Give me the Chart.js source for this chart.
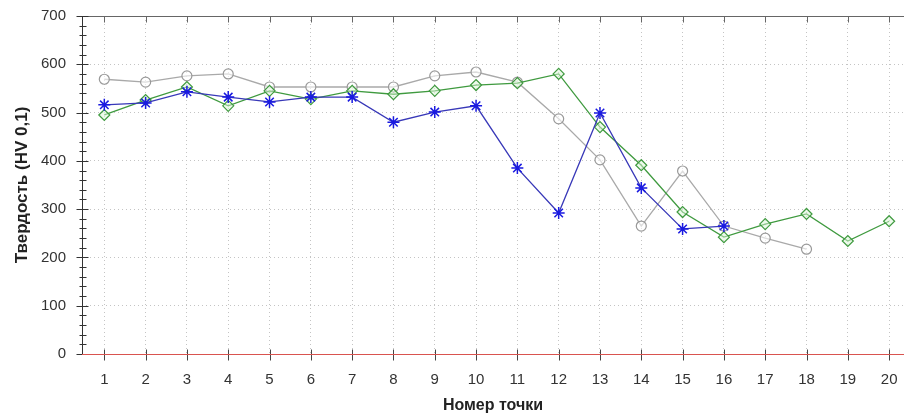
<!DOCTYPE html>
<html>
<head>
<meta charset="utf-8">
<script src="https://cdn.jsdelivr.net/npm/chart.js@4.4.1/dist/chart.umd.min.js"></script>
<style>
  html, body { margin: 0; padding: 0; background: #fff; }
  #wrap { width: 904px; height: 419px; }
</style>
</head>
<body>
<div id="wrap"><canvas id="myChart" width="904" height="419"></canvas></div>
<script>
// point numbers along the x axis
const points = [1, 2, 3, 4, 5, 6, 7, 8, 9, 10, 11, 12, 13, 14, 15, 16, 17, 18, 19, 20];

// hardness values
const grayValues  = [569, 563, 576, 580, 553, 553, 553, 553, 576, 584, 563, 487, 402, 265, 379, 265, 240, 217];
const greenValues = [495, 526, 553, 514, 545, 528, 545, 538, 545, 557, 561, 580, 470, 391, 294, 242, 269, 290, 234, 275];
const blueValues  = [516, 520, 543, 532, 522, 532, 532, 480, 501, 514, 385, 292, 499, 344, 259, 265];

const yTicks = [0, 100, 200, 300, 400, 500, 600, 700];

function toXY(values) {
  return values.map((v, i) => ({ x: points[i], y: v }));
}

// axis lines and crossing tick marks like the original plot
const axesPlugin = {
  id: 'axesPlugin',
  beforeDatasetsDraw(chart) {
    const ctx = chart.ctx;
    const xs = chart.scales.x;
    const ys = chart.scales.y;
    const area = chart.chartArea;
    ctx.save();
    ctx.lineWidth = 1;

    // top border with ticks hanging down
    ctx.strokeStyle = '#666';
    ctx.beginPath();
    const ty = Math.round(area.top) + 0.5;
    ctx.moveTo(area.left, ty);
    ctx.lineTo(area.right, ty);
    points.forEach(p => {
      const px = Math.round(xs.getPixelForValue(p)) + 0.5;
      ctx.moveTo(px, ty);
      ctx.lineTo(px, ty + 6);
    });
    ctx.stroke();

    // y axis with major and minor ticks
    ctx.strokeStyle = '#333';
    ctx.beginPath();
    const ax = Math.round(area.left) + 0.5;
    ctx.moveTo(ax, area.top);
    ctx.lineTo(ax, area.bottom);
    for (let v = 0; v <= 700; v += 20) {
      const py = Math.round(ys.getPixelForValue(v)) + 0.5;
      const major = v % 100 === 0;
      ctx.moveTo(ax - (major ? 6 : 3), py);
      ctx.lineTo(ax + (major ? 6 : 4), py);
    }
    ctx.stroke();

    // x axis ticks
    ctx.strokeStyle = '#444';
    ctx.beginPath();
    const by = Math.round(area.bottom) + 0.5;
    points.forEach(p => {
      const px = Math.round(xs.getPixelForValue(p)) + 0.5;
      ctx.moveTo(px, by - 5);
      ctx.lineTo(px, by + 6);
    });
    ctx.stroke();

    // red baseline
    ctx.strokeStyle = '#d9534f';
    ctx.beginPath();
    ctx.moveTo(area.left, by);
    ctx.lineTo(area.right, by);
    ctx.stroke();
    ctx.restore();
  }
};

const ctx = document.getElementById('myChart');

const chart = new Chart(ctx, {
  type: 'line',
  data: {
    datasets: [
      {
        label: 'gray',
        order: 2,
        data: toXY(grayValues),
        borderColor: '#a9a9a9',
        borderWidth: 1.3,
        pointStyle: 'circle',
        pointRadius: 5,
        pointBorderWidth: 1.2,
        pointBackgroundColor: 'rgba(255,255,255,0.6)',
        pointBorderColor: '#999',
        tension: 0
      },
      {
        label: 'blue',
        order: 0,
        data: toXY(blueValues),
        borderColor: '#3838b8',
        borderWidth: 1.3,
        pointStyle: 'star',
        pointRadius: 6,
        pointBorderWidth: 1.5,
        pointBorderColor: '#1a1ae0',
        pointBackgroundColor: '#1a1ae0',
        tension: 0
      },
      {
        label: 'green',
        order: 1,
        data: toXY(greenValues),
        borderColor: '#3f9a3f',
        borderWidth: 1.3,
        pointStyle: 'rectRot',
        pointRadius: 5.5,
        pointBorderWidth: 1.2,
        pointBorderColor: '#3f9a3f',
        pointBackgroundColor: 'rgba(220,245,215,0.5)',
        tension: 0
      }
    ]
  },
  options: {
    responsive: false,
    animation: false,
    layout: { autoPadding: false, padding: { top: 16, right: 0, left: 0, bottom: 0 } },
    plugins: {
      legend: { display: false },
      tooltip: { enabled: false }
    },
    scales: {
      x: {
        type: 'linear',
        min: 0.46,
        max: 20.36,
        afterBuildTicks: (scale) => { scale.ticks = points.map(p => ({ value: p })); },
        afterFit: (scale) => {
          scale.height = 65;
          scale.paddingLeft = 0;
          scale.paddingRight = 0;
        },
        border: { display: false, dash: [1, 3] },
        grid: {
          drawTicks: false,
          color: '#c4c4c4',
          lineWidth: 1
        },
        ticks: {
          padding: 17,
          color: '#333',
          font: { family: 'Liberation Sans, Arial, sans-serif', size: 15 },
          maxRotation: 0,
          autoSkip: false
        },
        title: {
          display: true,
          text: 'Номер точки',
          color: '#222',
          font: { family: 'Liberation Sans, Arial, sans-serif', size: 16, weight: 'bold' },
          padding: { top: 0, bottom: 4 }
        }
      },
      y: {
        min: 0,
        max: 700,
        afterBuildTicks: (scale) => { scale.ticks = yTicks.map(v => ({ value: v })); },
        afterFit: (scale) => {
          scale.width = 82;
          scale.paddingTop = 0;
          scale.paddingBottom = 0;
        },
        border: { display: false, dash: [1, 3] },
        grid: {
          drawTicks: false,
          color: '#c4c4c4',
          lineWidth: 1
        },
        ticks: {
          padding: 16,
          color: '#333',
          font: { family: 'Liberation Sans, Arial, sans-serif', size: 15 }
        },
        title: {
          display: true,
          text: 'Твердость (HV 0,1)',
          color: '#222',
          font: { family: 'Liberation Sans, Arial, sans-serif', size: 17, weight: 'bold' },
          padding: { top: 12, bottom: 0 }
        }
      }
    }
  },
  plugins: [axesPlugin]
});
</script>
</body>
</html>
